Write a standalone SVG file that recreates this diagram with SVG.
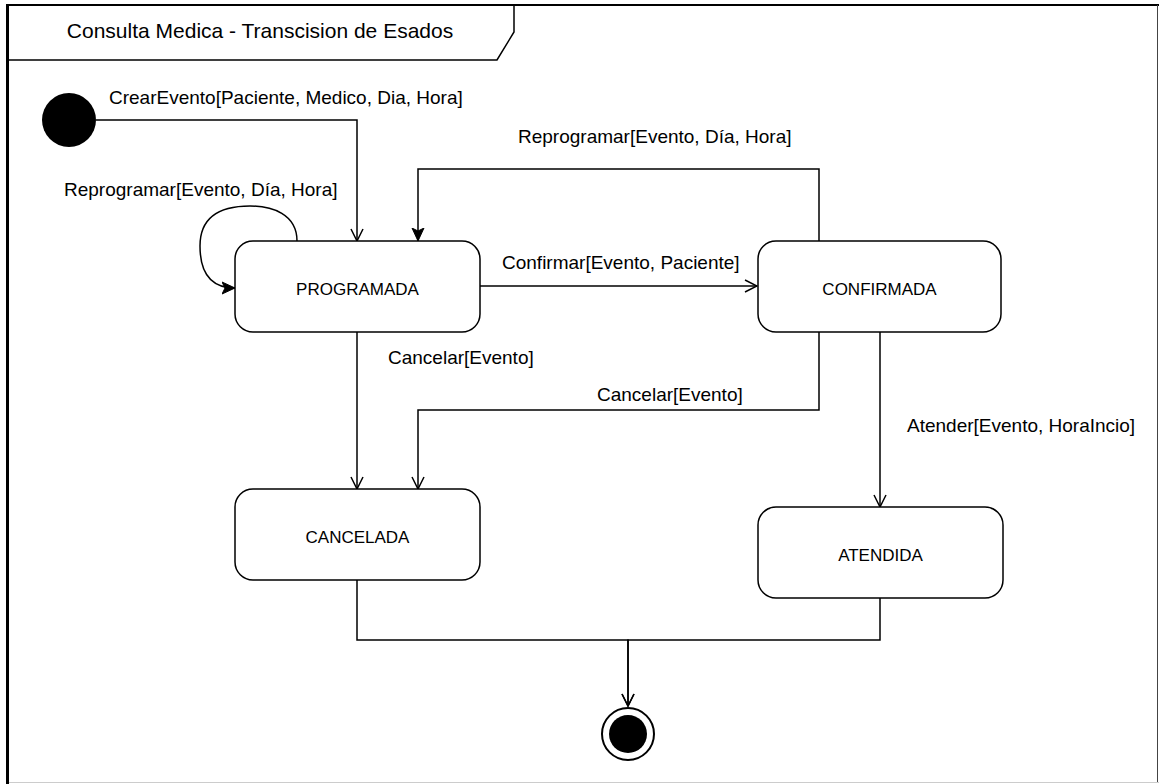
<svg xmlns="http://www.w3.org/2000/svg" width="1159" height="784" viewBox="0 0 1159 784">
<style>
.frame{fill:#fff}
.st{fill:#fff;stroke:#000;stroke-width:1.5}
.lbl{font-family:"Liberation Sans",Arial,sans-serif;font-size:19px;fill:#000}
.nm{font-family:"Liberation Sans",Arial,sans-serif;font-size:17px;fill:#000;text-anchor:middle}
.title{font-family:"Liberation Sans",Arial,sans-serif;font-size:21px;fill:#000;text-anchor:middle}
.e{fill:none;stroke:#000;stroke-width:1.5}
.o{marker-end:url(#open)}
.f{marker-end:url(#block)}
</style>
<defs>
<marker id="open" viewBox="0 0 14 14" refX="13" refY="7" markerWidth="14" markerHeight="14" markerUnits="userSpaceOnUse" orient="auto">
<path d="M1,1 L13,7 L1,13" fill="none" stroke="#000" stroke-width="1.5"/>
</marker>
<marker id="block" viewBox="0 0 14 14" refX="13" refY="7" markerWidth="14" markerHeight="14" markerUnits="userSpaceOnUse" orient="auto">
<path d="M0,1 L13,7 L0,13 L3,7 Z" fill="#000" stroke="#000" stroke-width="1"/>
</marker>
</defs>
<rect x="0" y="0" width="1159" height="784" fill="#fff"/>
<g id="frame">
<line x1="7.5" y1="5" x2="1159" y2="5" stroke="#000" stroke-width="2"/>
<line x1="7.5" y1="4" x2="7.5" y2="784" stroke="#000" stroke-width="3"/>
<line x1="1157.5" y1="5" x2="1157.5" y2="782" stroke="#444" stroke-width="1"/>
<line x1="9" y1="782.5" x2="1159" y2="782.5" stroke="#ccc" stroke-width="1"/>
<path d="M7,60 H497 L514,32 V5" fill="none" stroke="#000" stroke-width="1.5"/>
<text class="title" x="260" y="38">Consulta Medica - Transcision de Esados</text>
</g>
<g id="connectors">
<path class="e o" d="M96,120 H357 V241"/>
<path class="e f" d="M297,241 C297,214 272,206 250,206 C214,206 200,222 200,246 C200,272 210,288 235,288"/>
<path class="e f" d="M819,241 V169 H418 V241"/>
<path class="e o" d="M480,286 H757"/>
<path class="e o" d="M357,332 V489"/>
<path class="e o" d="M819,332 V410 H418 V489"/>
<path class="e o" d="M880,332 V507"/>
<path class="e o" d="M357,580 V640 H628 V706"/>
<path class="e o" d="M880,598 V640 H628 V706"/>
<text class="lbl" x="109" y="104">CrearEvento[Paciente, Medico, Dia, Hora]</text>
<text class="lbl" x="64" y="196">Reprogramar[Evento, Día, Hora]</text>
<text class="lbl" x="518" y="143">Reprogramar[Evento, Día, Hora]</text>
<text class="lbl" x="502" y="269">Confirmar[Evento, Paciente]</text>
<text class="lbl" x="388" y="364">Cancelar[Evento]</text>
<text class="lbl" x="597" y="401">Cancelar[Evento]</text>
<text class="lbl" x="907" y="432">Atender[Evento, HoraIncio]</text>
</g>
<g id="initial">
<circle cx="69" cy="120" r="27" fill="#000"/>
</g>
<g id="programada">
<rect class="st" x="235" y="241" width="245" height="91" rx="18"/>
<text class="nm" x="357.5" y="295">PROGRAMADA</text>
</g>
<g id="confirmada">
<rect class="st" x="758" y="241" width="243" height="91" rx="18"/>
<text class="nm" x="879.5" y="295">CONFIRMADA</text>
</g>
<g id="cancelada">
<rect class="st" x="235" y="489" width="245" height="91" rx="18"/>
<text class="nm" x="357.5" y="543">CANCELADA</text>
</g>
<g id="atendida">
<rect class="st" x="758" y="507" width="245" height="91" rx="18"/>
<text class="nm" x="880.5" y="561">ATENDIDA</text>
</g>
<g id="final">
<circle cx="628" cy="734" r="26" fill="#fff" stroke="#000" stroke-width="2"/>
<circle cx="628" cy="734" r="19" fill="#000"/>
</g>
</svg>
